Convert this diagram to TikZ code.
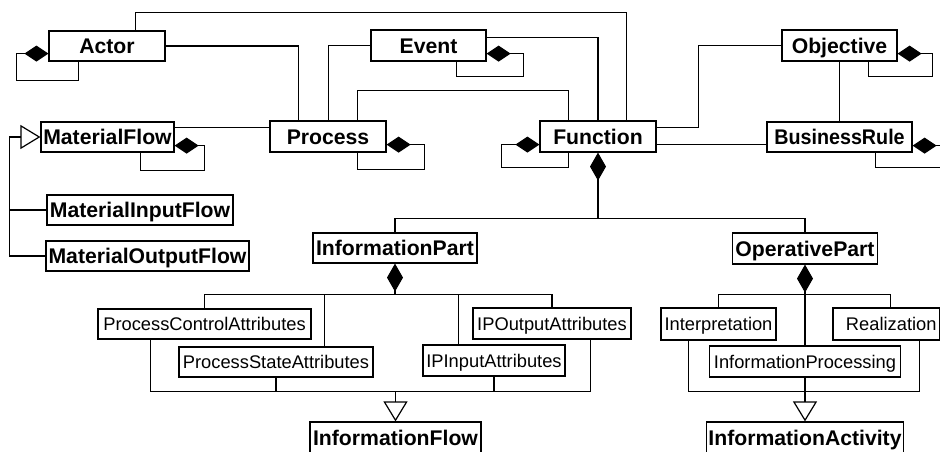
\documentclass[tikz,border=0pt]{standalone}
\usepackage{fontspec}
\setmainfont{Liberation Sans}
\usetikzlibrary{arrows.meta,calc}

\tikzset{
  cls/.style={draw, fill=white, inner sep=0pt, text height=15.2pt, text depth=0pt,
    font=\bfseries\fontsize{21.2}{24}\selectfont},
  attr/.style={draw, fill=white, inner sep=0pt, text height=13.1pt, text depth=0pt,
    font=\fontsize{18.3}{21}\selectfont},
  comp/.style={-{Diamond[length=24pt,width=16pt]}},
  compv/.style={{Diamond[length=28pt,width=16pt]}-},
  gen/.style={-{Triangle[open,length=20pt,width=24pt]}},
}

\begin{document}
\begin{tikzpicture}[x=1pt,y=-1pt,line width=1.2pt,line join=miter]
\fill[white] (0,0) rectangle (940,452);
\useasboundingbox (0,0) rectangle (940,452);
\clip (0,0) rectangle (940,452);

% ---- upper classes
\node[cls, minimum width=116pt, minimum height=30pt] (actor)     at (107,46)    {Actor};
\node[cls, minimum width=115pt, minimum height=31pt] (event)     at (428.5,45.5) {Event};
\node[cls, minimum width=115pt, minimum height=31pt] (objective) at (839.5,45.5) {Objective};
\node[cls, minimum width=133pt, minimum height=30pt] (matflow)   at (107.5,137) {MaterialFlow};
\node[cls, minimum width=116pt, minimum height=31pt] (process)   at (328,136.5) {Process};
\node[cls, minimum width=116pt, minimum height=31pt] (function)  at (598,136.5) {Function};
\node[cls, minimum width=145pt, minimum height=30pt] (bizrule)   at (839.5,137) {\scalebox{0.93}[1]{BusinessRule}};
\node[cls, minimum width=186pt, minimum height=30pt] (matin)     at (140,210)   {MaterialInputFlow};
\node[cls, minimum width=203pt, minimum height=30pt] (matout)    at (147.5,256) {MaterialOutputFlow};

% ---- function parts
\node[cls, minimum width=164pt, minimum height=30pt] (infopart)  at (395,248)   {InformationPart};
\node[cls, minimum width=145pt, minimum height=31pt] (operpart)  at (805,248.5) {OperativePart};

% ---- attributes
\node[attr, minimum width=213pt, minimum height=30pt] (pca)   at (204.5,324)  {ProcessControlAttributes};
\node[attr, minimum width=194pt, minimum height=30pt] (psa)   at (276,362)    {ProcessStateAttributes};
\node[attr, minimum width=158pt, minimum height=31pt] (ipout) at (552,323.5)  {IPOutputAttributes};
\node[attr, minimum width=142pt, minimum height=31pt] (ipin)  at (494,360.5)  {IPInputAttributes};
\node[attr, minimum width=115pt, minimum height=32pt] (interp) at (718.5,324)  {Interpretation};
\node[attr, minimum width=106.5pt, minimum height=32pt] (realiz) at (886.25,324) {\hspace*{10pt}Realization};
\node[attr, minimum width=191pt, minimum height=31pt] (infoproc) at (805,361.5) {InformationProcessing};

% ---- general classes at the bottom
\node[cls, minimum width=171pt, minimum height=32pt] (infoflow) at (395.5,438) {InformationFlow};
\node[cls, minimum width=197pt, minimum height=32pt] (infoact)  at (805,438)   {InformationActivity};

% ---- associations between upper classes
\draw ($(actor.north west)+(87,0)$) -- ++(0,-18) -| ($(function.north west)+(87,0)$);
\draw (actor.east) -| ($(process.north west)+(29,0)$);
\coordinate (mf1) at ($(matflow.north east)+(0,6)$);
\draw (mf1) -- (mf1 -| process.west);
\draw (event.west) -| ($(process.north west)+(59,0)$);
\draw ($(event.north east)+(0,8)$) -| (function.north);
\draw ($(process.north west)+(88,0)$) -- ++(0,-30) -| ($(function.north west)+(29,0)$);
\draw ($(function.north east)+(0,7)$) -- ++(42,0) |- (objective.west);
\coordinate (fb) at ($(function.south east)+(0,-8)$);
\draw (fb) -- (fb -| bizrule.west);
\draw (objective.south) -- (bizrule.north);

% ---- self compositions
\draw[comp] ($(actor.south west)+(30,0)$) -- ++(0,19) -- ++(-62,0) -- ++(0,-27)
  -- ($(actor.south west)+(0,-8)$);
\draw[comp] ($(matflow.south west)+(100,0)$) -- ++(0,18) -- ++(64,0) -- ++(0,-25)
  -- ($(matflow.south east)+(0,-7)$);
\draw[comp] ($(event.south west)+(86,0)$) -- ++(0,15) -- ++(67,0) -- ++(0,-23)
  -- ($(event.south east)+(0,-8)$);
\draw[comp] ($(process.south west)+(88,0)$) -- ++(0,17) -- ++(67,0) -- ++(0,-25)
  -- ($(process.south east)+(0,-8)$);
\draw[comp] ($(function.south west)+(29,0)$) -- ++(0,15) -- ++(-67,0) -- ++(0,-23)
  -- ($(function.south west)+(0,-8)$);
\draw[comp] ($(objective.south west)+(87,0)$) -- ++(0,15) -- ++(64,0) -- ++(0,-23)
  -- ($(objective.south east)+(0,-8)$);
\draw[comp] ($(bizrule.south west)+(109,0)$) -- ++(0,15) -- ++(80,0) -- ++(0,-22)
  -- ($(bizrule.south east)+(0,-7)$);

% ---- material flow specialisations
\coordinate (mfbus) at ($(matout.west)+(-36,0)$);
\draw[gen] (matout.west) -- (mfbus) |- (matflow.west);
\draw (matin.west) -- (matin.west -| mfbus);

% ---- function decomposition
\coordinate (fj) at ($(function.south)+(0,66)$);
\draw[compv] (function.south) -- (fj);
\draw (fj) -| (infopart.north);
\draw (fj) -| (operpart.north);

% ---- information part
\coordinate (ipj) at ($(infopart.south)+(0,31)$);
\draw[compv] (infopart.south) -- (ipj);
\draw (ipj) -| (pca.north);
\draw (ipj) -| ($(psa.north west)+(146,0)$);
\draw (ipj) -| ($(ipin.north west)+(36,0)$);
\draw (ipj) -| (ipout.north);

\coordinate (ifj) at ($(infoflow.north)+(0,-30)$);
\draw[gen] (ifj) -- (infoflow.north);
\draw ($(pca.south west)+(53,0)$) |- (ifj);
\draw (psa.south) |- (ifj);
\draw (ipin.south) |- (ifj);
\draw ($(ipout.south west)+(118,0)$) |- (ifj);

% ---- operative part
\coordinate (opj) at ($(operpart.south)+(0,30)$);
\draw[compv] (operpart.south) -- (infoproc.north);
\draw (opj) -| (interp.north);
\draw (opj) -| ($(realiz.north west)+(58,0)$);

\coordinate (iaj) at ($(infoact.north)+(0,-30)$);
\draw[gen] (infoproc.south) -- (infoact.north);
\draw ($(interp.south west)+(28,0)$) |- (iaj);
\draw ($(realiz.south west)+(87,0)$) |- (iaj);
\end{tikzpicture}
\end{document}
